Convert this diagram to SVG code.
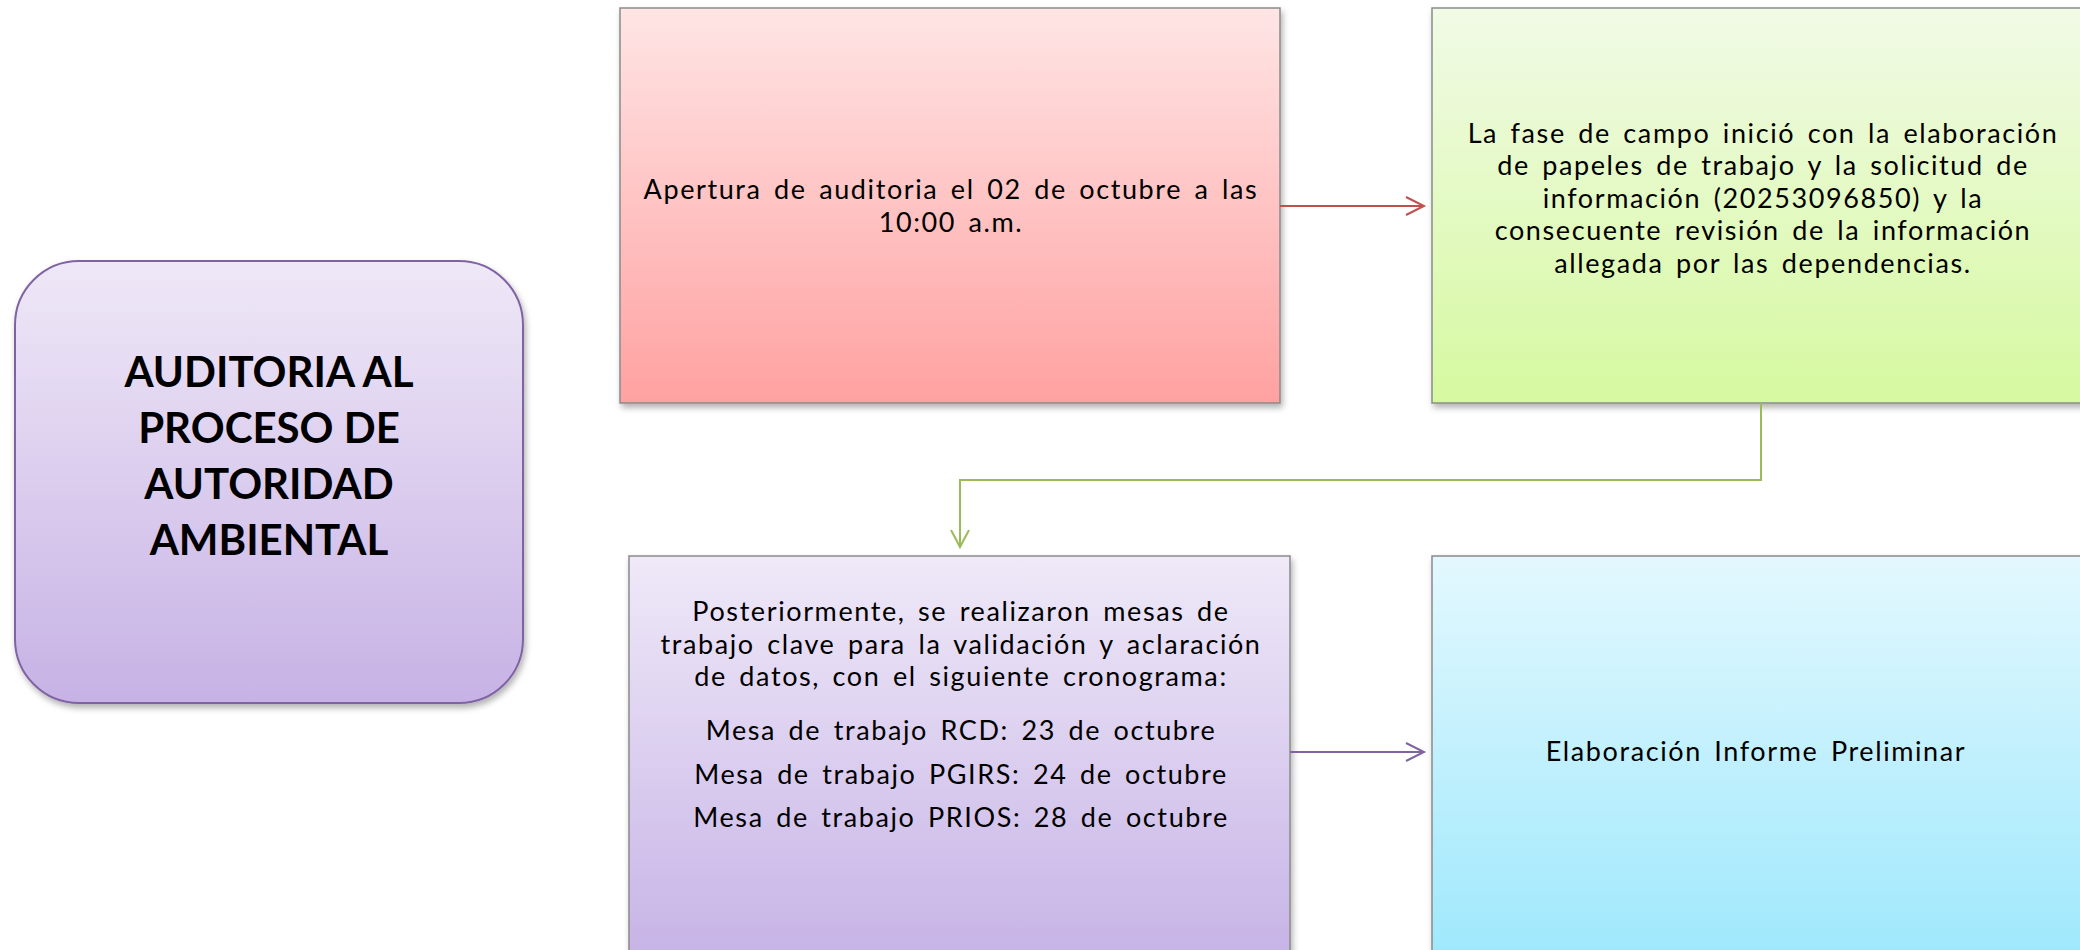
<svg xmlns="http://www.w3.org/2000/svg" width="2080" height="950" viewBox="0 0 2080 950">
<style>
.t{font-family:Lato,"Liberation Sans",sans-serif;font-size:27px;letter-spacing:1.6px;word-spacing:4px;fill:#000;text-anchor:middle}
.b{font-family:Lato,"Liberation Sans",sans-serif;font-size:42px;font-weight:bold;fill:#000;text-anchor:middle}
.box{stroke:#8a8a8a;stroke-width:1.5;filter:url(#sh)}
.c{fill:none;stroke-width:2}
</style>
<defs>
<filter id="sh" x="-5%" y="-5%" width="115%" height="115%">
<feDropShadow dx="2" dy="4" stdDeviation="3" flood-color="#000" flood-opacity="0.3"/>
</filter>
<linearGradient id="gL" x1="0" y1="0" x2="0" y2="1"><stop offset="0" stop-color="#EFE8F7"/><stop offset="1" stop-color="#C7B2E5"/></linearGradient>
<linearGradient id="gR" x1="0" y1="0" x2="0" y2="1"><stop offset="0" stop-color="#FFE5E5"/><stop offset="1" stop-color="#FFA1A1"/></linearGradient>
<linearGradient id="gG" x1="0" y1="0" x2="0" y2="1"><stop offset="0" stop-color="#F1FAE6"/><stop offset="1" stop-color="#D6F9A0"/></linearGradient>
<linearGradient id="gP" x1="0" y1="0" x2="0" y2="1"><stop offset="0" stop-color="#EFE9F8"/><stop offset="1" stop-color="#C6B2E6"/></linearGradient>
<linearGradient id="gB" x1="0" y1="0" x2="0" y2="1"><stop offset="0" stop-color="#E3F8FE"/><stop offset="1" stop-color="#9DE8FC"/></linearGradient>
</defs>

<g id="title">
<rect x="15" y="261" width="508" height="442" rx="64" ry="64" fill="url(#gL)" stroke="#8064A2" stroke-width="2" filter="url(#sh)"/>
<text class="b" x="269" y="387">AUDITORIA AL</text>
<text class="b" x="269" y="443">PROCESO DE</text>
<text class="b" x="269" y="499">AUTORIDAD</text>
<text class="b" x="269" y="555">AMBIENTAL</text>
</g>

<g id="apertura">
<rect class="box" x="620" y="8" width="660" height="395" fill="url(#gR)"/>
<text class="t" x="951" y="199">Apertura de auditoria el 02 de octubre a las</text>
<text class="t" x="951" y="232">10:00 a.m.</text>
</g>

<g id="fase-campo">
<rect class="box" x="1432" y="8" width="660" height="395" fill="url(#gG)"/>
<text class="t" x="1763" y="143">La fase de campo inició con la elaboración</text>
<text class="t" x="1763" y="175">de papeles de trabajo y la solicitud de</text>
<text class="t" x="1763" y="208">información (20253096850) y la</text>
<text class="t" x="1763" y="240">consecuente revisión de la información</text>
<text class="t" x="1763" y="273">allegada por las dependencias.</text>
</g>

<g id="mesas">
<rect class="box" x="629" y="556" width="661" height="410" fill="url(#gP)"/>
<text class="t" x="961" y="621">Posteriormente, se realizaron mesas de</text>
<text class="t" x="961" y="654">trabajo clave para la validación y aclaración</text>
<text class="t" x="961" y="686">de datos, con el siguiente cronograma:</text>
<text class="t" x="961" y="740">Mesa de trabajo RCD: 23 de octubre</text>
<text class="t" x="961" y="784">Mesa de trabajo PGIRS: 24 de octubre</text>
<text class="t" x="961" y="827">Mesa de trabajo PRIOS: 28 de octubre</text>
</g>

<g id="informe">
<rect class="box" x="1432" y="556" width="660" height="410" fill="url(#gB)"/>
<text class="t" x="1756" y="761">Elaboración Informe Preliminar</text>
</g>

<g id="connectors">
<path class="c" stroke="#C0504D" d="M1280 206 H1424 M1406 197 L1424 206 L1406 215"/>
<path class="c" stroke="#9BBB59" d="M1761 403 V480 H960 V547 M951 530 L960 547 L969 530"/>
<path class="c" stroke="#8064A2" d="M1290 752 H1424 M1406 743 L1424 752 L1406 761"/>
</g>
</svg>
